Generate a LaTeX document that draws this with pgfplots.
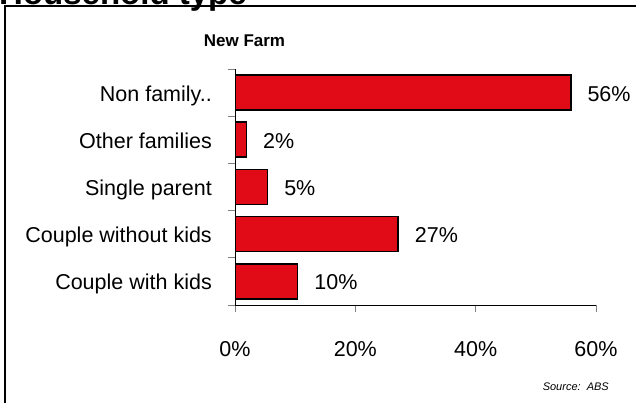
\documentclass[border=0pt]{standalone}
\usepackage{pgfplots}
\pgfplotsset{compat=1.18}
\usepackage{fontspec}
\setmainfont{Liberation Sans}
\definecolor{barred}{RGB}{225,10,23}
\begin{document}
\begin{tikzpicture}[x=1pt,y=1pt]
\path[use as bounding box] (0,0) rectangle (636,403);
\begin{scope}
\clip (0,0) rectangle (636,403);
\draw[line width=1.6pt] (5,-10) -- (5,397) -- (650,397);
\node[anchor=base west, inner sep=0pt, font=\fontsize{33}{38}\selectfont\bfseries] at (-1,398) {Household type};
\end{scope}
\node[anchor=base, inner sep=0pt, font=\fontsize{17}{20}\selectfont\bfseries] at (244.5,356) {New Farm};
\node[anchor=base east, inner sep=0pt, font=\fontsize{11}{13}\selectfont\itshape] at (609,12) {Source:\ \ ABS};
\begin{axis}[
  at={(235pt,98pt)}, anchor=south west, scale only axis,
  width=361pt, height=236pt,
  xmin=0, xmax=60, ymin=0.5, ymax=5.5,
  xbar, bar width=35pt,
  axis x line*=bottom, axis y line*=left,
  axis line style={black, line width=0.8pt},
  xtick={0,20,40,60},
  xticklabel={\pgfmathprintnumber{\tick}\%},
  ytick={0.5,1.5,2.5,3.5,4.5,5.5},
  yticklabels={},
  extra y ticks={1,2,3,4,5},
  extra y tick labels={Couple with kids, Couple without kids, Single parent, Other families, Non family..},
  extra y tick style={major tick length=0pt, yticklabel style={anchor=base east, xshift=-23pt, yshift=-8.5pt, inner sep=0pt}},
  major tick length=7pt,
  tick align=outside,
  tick style={gray, line width=0.8pt},
  /pgf/number format/assume math mode=true,
  ticklabel style={font=\fontsize{21.5}{25}\selectfont},
  xticklabel style={anchor=base, yshift=-45pt, inner sep=0pt},
  point meta=explicit,
  nodes near coords={\pgfmathprintnumber{\pgfplotspointmeta}\%},
  nodes near coords style={anchor=base west, xshift=16pt, yshift=-8.5pt, inner sep=0pt, font=\fontsize{21.5}{25}\selectfont, black},
]
\addplot[fill=barred, draw=black, line width=1.6pt] table[x=v, y=c, meta=l] {
c v l
1 10.4 10
2 27.1 27
3 5.4 5
4 1.9 2
5 55.8 56
};
\end{axis}
\end{tikzpicture}
\end{document}
